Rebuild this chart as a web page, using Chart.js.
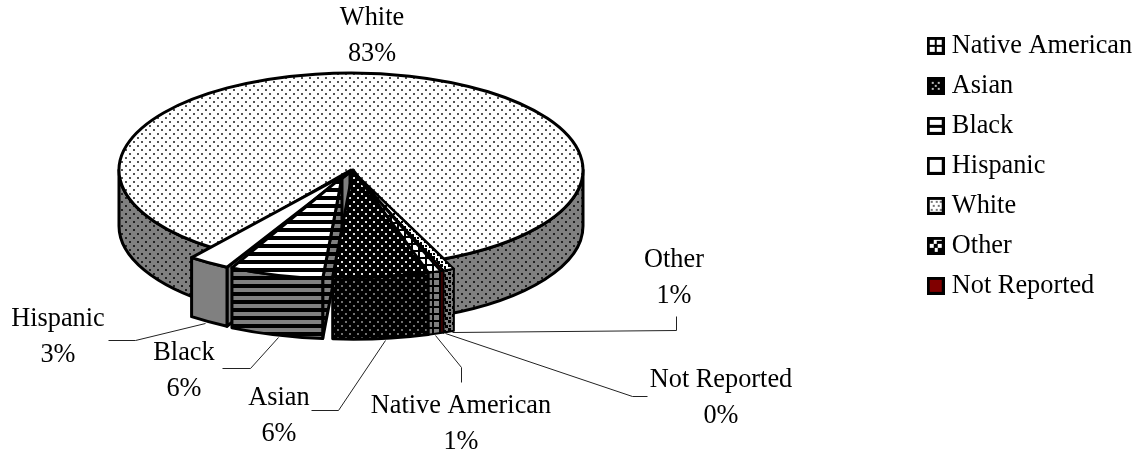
<!DOCTYPE html>
<html>
<head>
<meta charset="utf-8">
<style>html,body{margin:0;padding:0;background:#fff}canvas{display:block}</style>
<script src="https://cdn.jsdelivr.net/npm/chart.js@4"></script>
</head>
<body>
<canvas id="c" width="1137" height="450"></canvas>
<script>
// ---- data ----
const categories = ['Native American','Asian','Black','Hispanic','White','Other','Not Reported'];
const shares     = [0.9, 6.0, 6.2, 2.6, 83.4, 0.7, 0.2];

// ---- look ----
const paintOrder = [4,5,6,0,3,2,1];           // back to front
const sliceShift = [[0,0],[2,0],[-9,7],[-1,2],[0,0],[0,0],[0,0]];  // explosion, px
const sliceReach = [1.11,1.105,1.05,1.116,1,1.11,1.11];
const sliceDepth = [62,62,60,59,56,62,62];
const sliceTurn  = [0,0,0,1.5,0,0,0];         // degrees
const startAngleDeg = 159.7;
const pie = {cx:351, cy:170, rx:232, ry:97};
const font = '26.3px "Liberation Serif"';
const lineH = 36;
const labelSpots = [
  {x:461,y:406, line:[[461,382],[461,367],[435,335]]},
  {x:279,y:398, line:[[311,410],[338,410],[385,340]]},
  {x:184,y:353, line:[[222,368],[250,368],[278,337]]},
  {x:58, y:319, line:[[108,340],[135,340],[205,323]]},
  {x:372,y:18,  line:null},
  {x:674,y:260, line:[[676,316],[676,330],[452,332]]},
  {x:721,y:380, line:[[647,396],[632,396],[445,333]]}
];

function tile(w,h,bg,paint){
  const c=document.createElement('canvas');c.width=w;c.height=h;
  const g=c.getContext('2d');g.fillStyle=bg;g.fillRect(0,0,w,h);paint(g);return c;
}
const dots=(col)=>(g)=>{g.fillStyle=col;g.fillRect(1,1,2,2);g.fillRect(5,5,2,2);};
const bands=(g)=>{g.fillStyle='#000';g.fillRect(0,4,8,4);};
const grid=(g)=>{g.fillStyle='#000';g.fillRect(0,5,7,2);g.fillRect(5,0,2,7);};
const blocks=(g)=>{g.fillStyle='#000';g.fillRect(0,0,3,3);g.fillRect(4,2,2,3);g.fillRect(5,5,3,3);g.fillRect(1,5,2,2);};

const RED='#800000', GREY='#808080';
const topTiles=[
  tile(7,7,'#fff',grid), tile(8,8,'#000',dots('#e0e0e0')), tile(8,8,'#fff',bands),
  tile(8,8,'#fff',()=>{}), tile(8,8,'#fff',dots('#555')), tile(8,8,'#fff',blocks), tile(8,8,RED,()=>{})
];
const sideTiles=[
  tile(7,7,GREY,grid), tile(8,8,'#000',dots('#707070')), tile(8,8,GREY,bands),
  tile(8,8,GREY,()=>{}), tile(8,8,GREY,dots('#222')), tile(8,8,GREY,blocks), tile(8,8,RED,()=>{})
];
const swatchTiles=[
  (g)=>{g.fillStyle='#000';g.fillRect(8,0,2,18);g.fillRect(0,8,18,2);},
  (g)=>{g.fillStyle='#000';g.fillRect(0,0,18,18);g.fillStyle='#bbb';[[5,5],[11,5],[8,8],[5,11],[11,11]].forEach(p=>g.fillRect(p[0],p[1],2,2));},
  (g)=>{g.fillStyle='#000';g.fillRect(0,8,18,3);},
  ()=>{},
  (g)=>{g.fillStyle='#777';[[4,4],[9,4],[13,4],[6,8],[11,8],[4,12],[9,12],[13,12]].forEach(p=>g.fillRect(p[0],p[1],2,2));},
  (g)=>{g.fillStyle='#000';[[3,3,4,4],[10,4,5,3],[7,7,4,4],[3,11,5,4],[11,11,4,4]].forEach(p=>g.fillRect(p[0],p[1],p[2],p[3]));},
  (g)=>{g.fillStyle=RED;g.fillRect(0,0,18,18);}
];
const swatches=swatchTiles.map(p=>{
  const c=tile(18,18,'#fff',p);const g=c.getContext('2d');
  g.strokeStyle='#000';g.lineWidth=3;g.strokeRect(1.5,1.5,15,15);return c;
});

const prismPlugin={
  id:'prism',
  afterLayout(chart){
    chart.legend.left=919; chart.legend.right=1137; chart.legend.top=19;
  },
  beforeDatasetsDraw(chart){
    const ctx=chart.ctx, arcs=chart.getDatasetMeta(0).data;
    const tops=topTiles.map(t=>ctx.createPattern(t,'repeat'));
    const sides=sideTiles.map(t=>ctx.createPattern(t,'repeat'));
    ctx.save();
    ctx.lineJoin='round';
    ctx.strokeStyle='#000';
    paintOrder.forEach(i=>{
      const arc=arcs[i], turn=sliceTurn[i]*Math.PI/180;
      const a0=arc.startAngle+turn, a1=arc.endAngle+turn;
      const ax=pie.cx+sliceShift[i][0], ay=pie.cy+sliceShift[i][1];
      const rx=pie.rx*sliceReach[i], ry=pie.ry*sliceReach[i], d=sliceDepth[i];
      ctx.lineWidth=(i===0||i===5||i===6)?2:3;
      const face=(ang)=>{
        const x=ax+Math.cos(ang)*rx,y=ay+Math.sin(ang)*ry;
        ctx.beginPath();ctx.moveTo(ax,ay);ctx.lineTo(x,y);ctx.lineTo(x,y+d);ctx.lineTo(ax,ay+d);ctx.closePath();
        ctx.fillStyle=sides[i];ctx.fill();ctx.stroke();
      };
      if(Math.cos(a1)>0) face(a1);
      if(Math.cos(a0)<0) face(a0);
      for(let k=-1;k<=2;k++){
        const lo=Math.max(a0,k*2*Math.PI), hi=Math.min(a1,k*2*Math.PI+Math.PI);
        if(hi<=lo) continue;
        ctx.beginPath();
        ctx.ellipse(ax,ay,rx,ry,0,lo,hi);
        ctx.ellipse(ax,ay+d,rx,ry,0,hi,lo,true);
        ctx.closePath();
        ctx.fillStyle=sides[i];ctx.fill();ctx.stroke();
      }
      ctx.beginPath();ctx.moveTo(ax,ay);
      ctx.ellipse(ax,ay,rx,ry,0,a0,a1);
      ctx.closePath();
      ctx.fillStyle=tops[i];ctx.fill();ctx.stroke();
    });
    ctx.restore();
    return false;
  },
  afterDraw(chart){
    const ctx=chart.ctx;
    ctx.save();
    ctx.font=font;ctx.textAlign='center';ctx.textBaseline='middle';ctx.fillStyle='#000';
    ctx.strokeStyle='#222';ctx.lineWidth=1;
    const total=shares.reduce((a,b)=>a+b,0);
    categories.forEach((name,i)=>{
      const s=labelSpots[i];
      ctx.fillText(name,s.x,s.y);
      ctx.fillText(Math.round(shares[i]/total*100)+'%',s.x,s.y+lineH);
      if(s.line){
        ctx.beginPath();
        s.line.forEach((p,j)=>j?ctx.lineTo(p[0]+.5,p[1]+.5):ctx.moveTo(p[0]+.5,p[1]+.5));
        ctx.stroke();
      }
    });
    ctx.restore();
  }
};

new Chart(document.getElementById('c'),{
  type:'pie',
  data:{labels:categories,datasets:[{data:shares,borderWidth:0}]},
  options:{
    responsive:false,animation:false,
    rotation:startAngleDeg,
    plugins:{
      tooltip:{enabled:false},
      legend:{
        position:'right',align:'start',
        labels:{
          font:{family:'Liberation Serif',size:26.3},color:'#000',
          usePointStyle:true,pointStyleWidth:6,boxHeight:18,padding:13.7,
          generateLabels:()=>categories.map((t,i)=>({text:t,pointStyle:swatches[i],fillStyle:'#fff',strokeStyle:'#000',lineWidth:0,index:i,hidden:false}))
        }
      }
    }
  },
  plugins:[prismPlugin]
});
</script>
</body>
</html>
